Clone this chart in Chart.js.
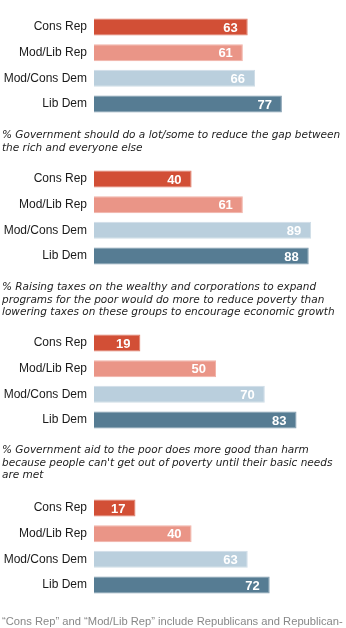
<!DOCTYPE html>
<html>
<head>
<meta charset="utf-8">
<script src="https://cdn.jsdelivr.net/npm/chart.js@4.4.0/dist/chart.umd.min.js"></script>
<style>
  body { margin: 0; background: #fff; width: 346px; height: 628px; overflow: hidden; position: relative; }
  .chart-box { position: absolute; left: 0; width: 346px; height: 131px; }
  .caption { position: absolute; left: 2px; font-family: "DejaVu Sans", sans-serif; font-style: italic;
             font-size: 10.5px; line-height: 12.5px; color: #222; white-space: nowrap; }
  .note { position: absolute; left: 2px; top: 615px; font-family: "Liberation Sans", Arial, sans-serif;
          font-size: 11.2px; color: #888; white-space: nowrap; }
</style>
</head>
<body>
<div class="chart-box" style="top:0px"><canvas id="chart1" width="346" height="131"></canvas></div>
<div class="caption" id="cap1" style="top:128px"></div>
<div class="chart-box" style="top:152px"><canvas id="chart2" width="346" height="131"></canvas></div>
<div class="caption" id="cap2" style="top:280px"></div>
<div class="chart-box" style="top:316px"><canvas id="chart3" width="346" height="131"></canvas></div>
<div class="caption" id="cap3" style="top:443px"></div>
<div class="chart-box" style="top:481px"><canvas id="chart4" width="346" height="131"></canvas></div>
<div class="note" id="note"></div>
<script>
let groups = ['Cons Rep', 'Mod/Lib Rep', 'Mod/Cons Dem', 'Lib Dem'];
let bar_colors = ['#d24f36', '#ea9587', '#bacfdd', '#567c93'];
let edge_colors = ['#e07d69', '#f1b3a8', '#cfdde7', '#7f9bae'];

let gov_reduce_gap = [63, 61, 66, 77];
let raise_taxes = [40, 61, 89, 88];
let gov_aid_good = [19, 50, 70, 83];
let fourth_item = [17, 40, 63, 72];

let captions = [
    ['% Government should do a lot/some to reduce the gap between', 'the rich and everyone else'],
    ['% Raising taxes on the wealthy and corporations to expand', 'programs for the poor would do more to reduce poverty than', 'lowering taxes on these groups to encourage economic growth'],
    ['% Government aid to the poor does more good than harm', 'because people can\'t get out of poverty until their basic needs', 'are met'],
];
let note_text = '\u201cCons Rep\u201d and \u201cMod/Lib Rep\u201d include Republicans and Republican-';

// writes the number inside the end of each bar
const bar_values = {
    id: 'bar_values',
    afterDatasetsDraw(chart) {
        let ctx = chart.ctx;
        let meta = chart.getDatasetMeta(0);
        ctx.save();
        ctx.fillStyle = '#fff';
        ctx.font = 'bold 13px "Liberation Sans", Arial, sans-serif';
        ctx.textAlign = 'right';
        ctx.textBaseline = 'middle';
        meta.data.forEach((bar, i) => {
            ctx.fillText(chart.data.datasets[0].data[i], bar.x - 10, bar.y + 1);
        });
        ctx.restore();
    }
};

function plot_bars(id, values) {
    let ctx = document.getElementById(id);
    return new Chart(ctx, {
        type: 'bar',
        data: {
            labels: groups,
            datasets: [{
                data: values,
                backgroundColor: bar_colors,
                borderColor: edge_colors,
                borderWidth: 1,
                barPercentage: 0.66,
                categoryPercentage: 1,
            }],
        },
        options: {
            indexAxis: 'y',
            responsive: false,
            animation: false,
            layout: { padding: { left: 0, right: 8, top: 0, bottom: 0 } },
            scales: {
                x: { min: 0, max: 100, display: false },
                y: {
                    afterFit: (scale) => { scale.width = 94; },
                    grid: { display: false, drawTicks: false },
                    border: { display: false },
                    ticks: {
                        padding: 7,
                        color: '#1a1a1a',
                        font: { family: '"Liberation Sans", Arial, sans-serif', size: 12 },
                    },
                },
            },
            plugins: {
                legend: { display: false },
                tooltip: { enabled: false },
            },
        },
        plugins: [bar_values],
    });
}

plot_bars('chart1', gov_reduce_gap);
plot_bars('chart2', raise_taxes);
plot_bars('chart3', gov_aid_good);
plot_bars('chart4', fourth_item);

captions.forEach((lines, i) => {
    document.getElementById('cap' + (i + 1)).innerHTML = lines.join('<br>');
});
document.getElementById('note').textContent = note_text;
</script>
</body>
</html>
